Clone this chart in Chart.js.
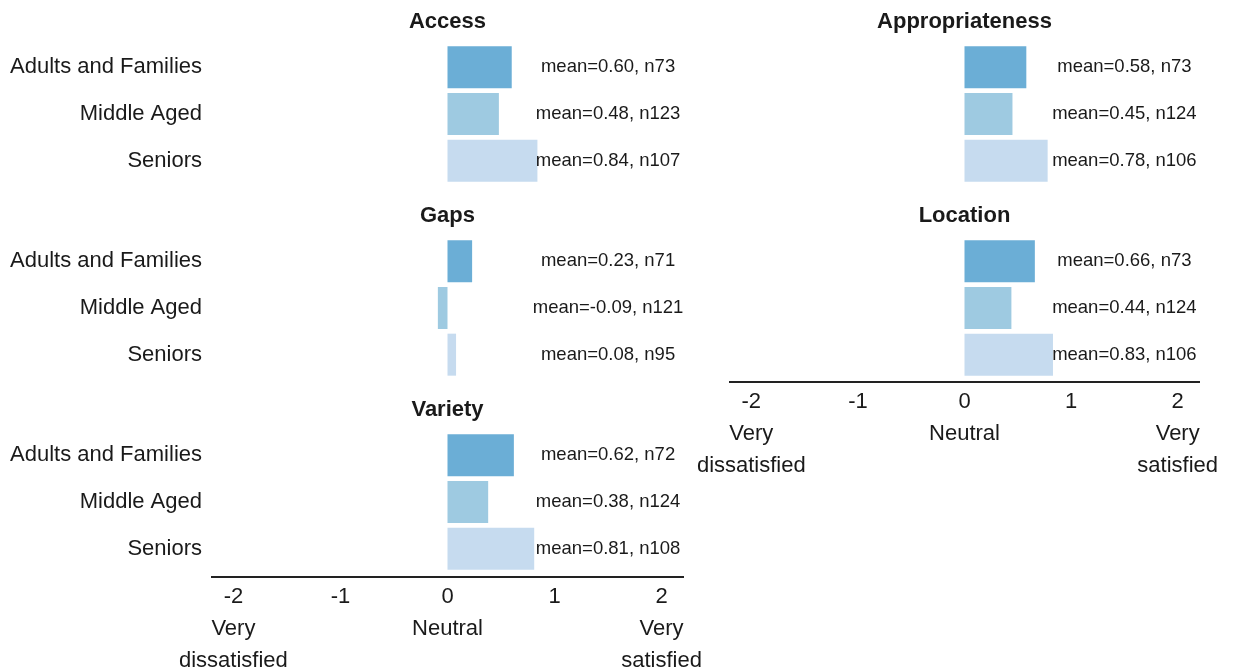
<!DOCTYPE html>
<html><head><meta charset="utf-8">
<script src="https://cdn.jsdelivr.net/npm/chart.js@4.4.1/dist/chart.umd.min.js"></script>
<style>
html,body{margin:0;padding:0;background:#fff;}
#wrap{position:relative;width:1234px;height:670px;overflow:hidden;background:#fff;}
#wrap canvas{position:absolute;}
</style></head><body><div id="wrap"></div>
<script>
// ---- data ----
const categories = ['Adults and Families', 'Middle Aged', 'Seniors'];
const barColors = ['#6baed6', '#9ecae1', '#c6dbef'];

const accessMean = [0.60, 0.48, 0.84];
const accessN = [73, 123, 107];
const gapsMean = [0.23, -0.09, 0.08];
const gapsN = [71, 121, 95];
const varietyMean = [0.62, 0.38, 0.81];
const varietyN = [72, 124, 108];
const appropriatenessMean = [0.58, 0.45, 0.78];
const appropriatenessN = [73, 124, 106];
const locationMean = [0.66, 0.44, 0.83];
const locationN = [73, 124, 106];

const tickValues = [-2, -1, 0, 1, 2];
const tickLabels = [['-2', 'Very', 'dissatisfied'], ['-1'], ['0', 'Neutral'], ['1'], ['2', 'Very', 'satisfied']];

// ---- styling / layout ----
const FONT = "'Liberation Sans', Arial, Helvetica, sans-serif";
const INK = '#1a1a1a';

const panelText = {
  id: 'panelText',
  afterDatasetsDraw(chart, args, o) {
    const {ctx, chartArea, scales: {x}} = chart;
    ctx.save();
    ctx.fillStyle = INK;
    ctx.textAlign = 'center';
    ctx.textBaseline = 'middle';
    ctx.font = 'bold 22px ' + FONT;
    ctx.fillText(o.title, x.getPixelForValue(0), chartArea.top - 22);
    ctx.font = '18.5px ' + FONT;
    const lx = x.getPixelForValue(o.labelAt);
    chart.getDatasetMeta(0).data.forEach((bar, i) => {
      ctx.fillText('mean=' + o.means[i].toFixed(2) + ', n' + o.ns[i], lx, bar.y);
    });
    ctx.restore();
  }
};

function makePanel(title, means, ns, L) {
  const wrap = document.getElementById('wrap');
  const c = document.createElement('canvas');
  c.width = L.width; c.height = L.height;
  c.style.left = L.left + 'px'; c.style.top = L.top + 'px';
  c.style.width = L.width + 'px'; c.style.height = L.height + 'px';
  wrap.appendChild(c);
  new Chart(c.getContext('2d'), {
    type: 'bar',
    data: {
      datasets: [{
        data: means.map((m, i) => ({x: m, y: i})),
        backgroundColor: barColors,
        borderWidth: 0,
        barPercentage: 0.9,
        categoryPercentage: 1
      }]
    },
    options: {
      indexAxis: 'y',
      responsive: false,
      animation: false,
      layout: {padding: {top: 44, right: L.padRight, bottom: 0, left: 0}},
      plugins: {
        legend: {display: false},
        tooltip: {enabled: false},
        panelText: {title: title, means: means, ns: ns, labelAt: 1.5}
      },
      scales: {
        x: {
          type: 'linear', min: -2.2, max: 2.2, display: L.showX, offset: false,
          afterBuildTicks: s => { s.ticks = tickValues.map(v => ({value: v})); },
          afterFit: s => { if (L.showX) s.height = 93; },
          grid: {display: false, drawTicks: false},
          border: {display: true, color: '#222', width: 2},
          ticks: {
            autoSkip: false, maxRotation: 0, minRotation: 0, padding: 4, color: INK,
            font: {family: FONT, size: 22, lineHeight: 1.45},
            callback: (v, i) => tickLabels[i]
          }
        },
        y: {
          type: 'linear', reverse: true, min: -0.5, max: L.yMax, offset: false,
          afterBuildTicks: s => { s.ticks = categories.map((_, i) => ({value: i})); },
          afterFit: s => { s.width = L.yAxisW; s.paddingTop = 0; s.paddingBottom = 0; },
          grid: {display: false, drawTicks: false, offset: false},
          border: {display: false},
          ticks: {
            display: L.showY, autoSkip: false, padding: 10, color: INK,
            font: {family: FONT, size: 22},
            callback: (v, i) => categories[i]
          }
        }
      }
    },
    plugins: [panelText]
  });
}

const leftCol = {left: 0, width: 720, yAxisW: 212, padRight: 37, showY: true};
const rightCol = {left: 680, width: 554, yAxisW: 50, padRight: 35, showY: false};

makePanel('Access', accessMean, accessN, Object.assign({}, leftCol, {top: 0, height: 184, showX: false, yMax: 2.5}));
makePanel('Gaps', gapsMean, gapsN, Object.assign({}, leftCol, {top: 194, height: 184, showX: false, yMax: 2.5}));
makePanel('Variety', varietyMean, varietyN, Object.assign({}, leftCol, {top: 388, height: 282, showX: true, yMax: 2.607}));
makePanel('Appropriateness', appropriatenessMean, appropriatenessN, Object.assign({}, rightCol, {top: 0, height: 184, showX: false, yMax: 2.5}));
makePanel('Location', locationMean, locationN, Object.assign({}, rightCol, {top: 194, height: 281, showX: true, yMax: 2.586}));
</script>
</body></html>
